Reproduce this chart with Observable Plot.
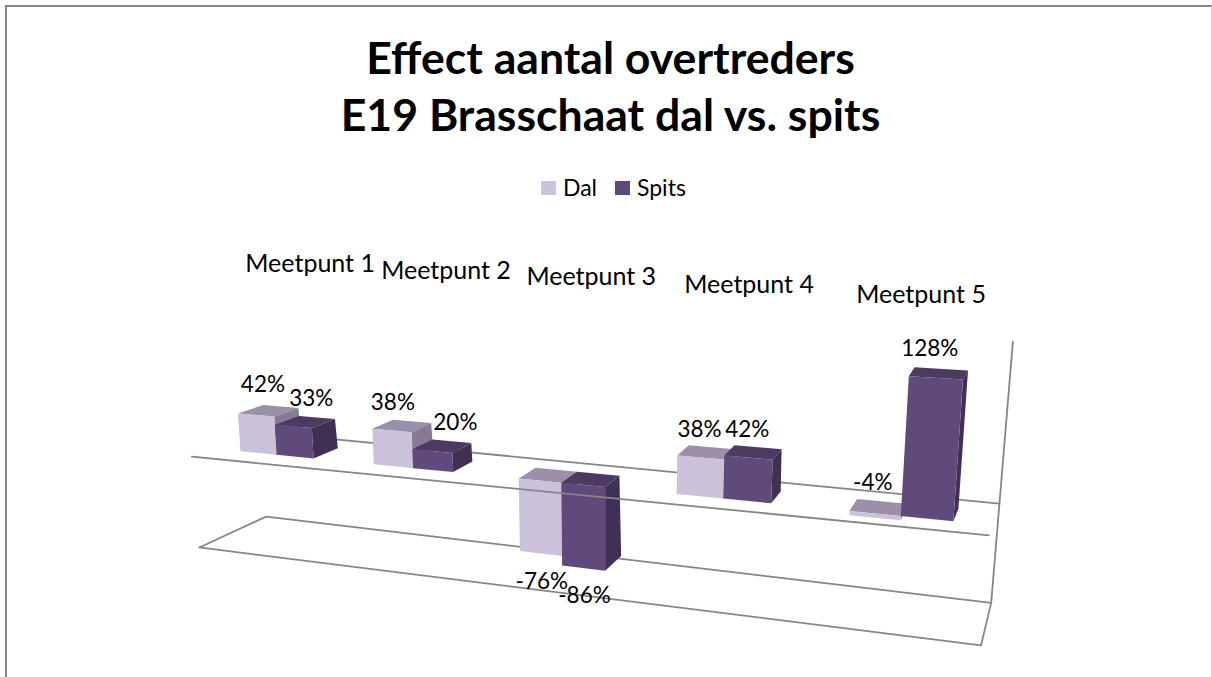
<!DOCTYPE html>
<html><head><meta charset="utf-8">
<script src="https://cdn.jsdelivr.net/npm/d3@7"></script>
<script src="https://cdn.jsdelivr.net/npm/@observablehq/plot@0.6"></script>
<style>
html,body{margin:0;padding:0;background:#fff;overflow:hidden}
#frame{position:absolute;left:5px;top:5px;width:1207px;height:680px;border:2px solid #868686;border-right:1px solid #d0d0d0;box-sizing:border-box;}
#page{position:absolute;left:0;top:0;width:1212px;height:677px;font-family:Lato,sans-serif;color:#000}
#title{position:absolute;left:0;top:28px;width:1221px;text-align:center;font-weight:700;font-size:44.6px;line-height:57px}
#legend{position:absolute;left:0;top:172px;width:1212px;height:30px;font-size:23px;line-height:30px}
#legend i{position:absolute;top:9px;width:15px;height:14px}
#legend span{position:absolute;top:0}
#chart{position:absolute;left:0;top:210px}
svg text{font-family:Lato,sans-serif}
</style></head><body>
<div id="page">
<div id="frame"></div>
<div id="title">Effect aantal overtreders<br>E19 Brasschaat dal vs. spits</div>
<div id="legend"><i style="left:541px;background:#CCC1DA"></i><span style="left:563px">Dal</span><i style="left:615px;background:#604A7B"></i><span style="left:637px">Spits</span></div>
<div id="chart"></div>
</div>
<script>
const categories = ["Meetpunt 1","Meetpunt 2","Meetpunt 3","Meetpunt 4","Meetpunt 5"];
const dal   = [0.42, 0.38, -0.76, 0.38, -0.04];
const spits = [0.33, 0.20, -0.86, 0.42, 1.28];
const axisMin = -1, axisMax = 1.5;

// Camera of the 3D chart: a plane homography for the front and the back of the bars.
function quad(p0,p1,p2,p3){
  const [x0,y0]=p0,[x1,y1]=p1,[x2,y2]=p2,[x3,y3]=p3;
  const dx1=x1-x2,dx2=x3-x2,sx=x0-x1+x2-x3,dy1=y1-y2,dy2=y3-y2,sy=y0-y1+y2-y3;
  const D=dx1*dy2-dx2*dy1,g=(sx*dy2-dx2*sy)/D,h=(dx1*sy-sx*dy1)/D;
  const a=x1-x0+g*x1,b=x3-x0+h*x3,d=y1-y0+g*y1,e=y3-y0+h*y3;
  return (s,t)=>{const w=g*s+h*t+1;return [(a*s+b*t+x0)/w,(d*s+e*t+y0)/w];};
}
const uMax=4.557, vMax=1.28;
const frontPlane=quad([240,450.7],[952.7,520.7],[962.3,379],[231.8,333.7]);
const backPlane =quad([267,441],[957.7,508.3],[967.3,370],[254,327.5]);
function project(u,v,depth){
  const f=frontPlane(u/uMax,v/vMax), b=backPlane(u/uMax,v/vMax);
  return [f[0]+depth*(b[0]-f[0]), f[1]+depth*(b[1]-f[1])];
}
const barW=0.279, uL=-0.2, uR=4.76, dF=-0.83, dB=1.71;
const uFloorFrontL=-0.17, uFloorBackL=-0.29, vFloorBackL=axisMin-0.06;

const colors={Dal:{front:"#CCC1DA",top:"#9C90A8",side:"#857B92"},Spits:{front:"#604A7B",top:"#4B3A61",side:"#403152"}};
const faces=[];
function face(id,fill,corners){corners.forEach(c=>{const p=project(...c);faces.push({id,fill,px:p[0],py:p[1]});});}
function bar(name,i,k,val){
  const u0=i+k*barW,u1=u0+barW,hi=Math.max(val,0),lo=Math.min(val,0),c=colors[name],id=name+i;
  face(id+"t",c.top,[[u0,hi,0],[u1,hi,0],[u1,hi,1],[u0,hi,1]]);
  face(id+"s",c.side,[[u1,lo,0],[u1,hi,0],[u1,hi,1],[u1,lo,1]]);
  face(id+"f",c.front,[[u0,lo,0],[u1,lo,0],[u1,hi,0],[u0,hi,0]]);
}
categories.forEach((_,i)=>{bar("Dal",i,0,dal[i]);bar("Spits",i,1,spits[i]);});

function polyline(id,pts){return pts.map(c=>{const p=project(...c);return {id,px:p[0],py:p[1]};});}
const backLines=[
  ...polyline("zeroBack",[[uL,0,dB],[uR,0,dB]]),
  ...polyline("wall",[[uR,axisMax,dB],[uR,axisMin,dB]]),
  ...polyline("floor",[[uFloorBackL,vFloorBackL,dB],[uR,axisMin,dB],[uR,axisMin,dF],[uFloorFrontL,axisMin,dF],[uFloorBackL,vFloorBackL,dB]])
];
const frontLine=polyline("zeroFront",[[uL,0,dF],[uR,0,dF]]);

// Value labels sit where the hand-moved labels of the reference sit.
const labelNudge=[[7,-30],[18,-28],[1,-28],[23,-28],[1,28],[1,28],[-1,-28],[-1,-28],[-2,-35],[-6,-29]];
const labels=[];
categories.forEach((_,i)=>{[dal[i],spits[i]].forEach((val,k)=>{
  const p=project(i+(k+0.5)*barW,val,0),n=labelNudge[i*2+k];
  labels.push({t:Math.round(val*100)+"%",px:p[0]+n[0],py:p[1]+n[1]});
});});
const catNudge=[[7,-6],[10,-4],[9,-3],[5,-1],[-3,2]];
const catLabels=categories.map((t,i)=>{const p=project(i+0.28,1.87,2);return {t,px:p[0]+catNudge[i][0],py:p[1]+catNudge[i][1]};});

const svgTop=210,height=677-svgTop;
const plot=Plot.plot({
  width:1212,height,margin:0,
  x:{domain:[0,1212],range:[0,1212],axis:null},
  y:{domain:[svgTop,677],range:[0,height],axis:null},
  color:{type:"identity"},
  marks:[
    Plot.line(backLines,{x:"px",y:"py",z:"id",stroke:"#868686",strokeWidth:1.8}),
    Plot.line(faces,{x:"px",y:"py",z:"id",fill:"fill",stroke:"none",curve:"linear-closed"}),
    Plot.line(frontLine,{x:"px",y:"py",z:"id",stroke:"#868686",strokeWidth:1.8}),
    Plot.text(labels,{x:"px",y:"py",text:"t",fontSize:22.5,fill:"#000"}),
    Plot.text(catLabels,{x:"px",y:"py",text:"t",fontSize:25,fill:"#000"})
  ]
});
document.getElementById("chart").appendChild(plot);
</script>
</body></html>
